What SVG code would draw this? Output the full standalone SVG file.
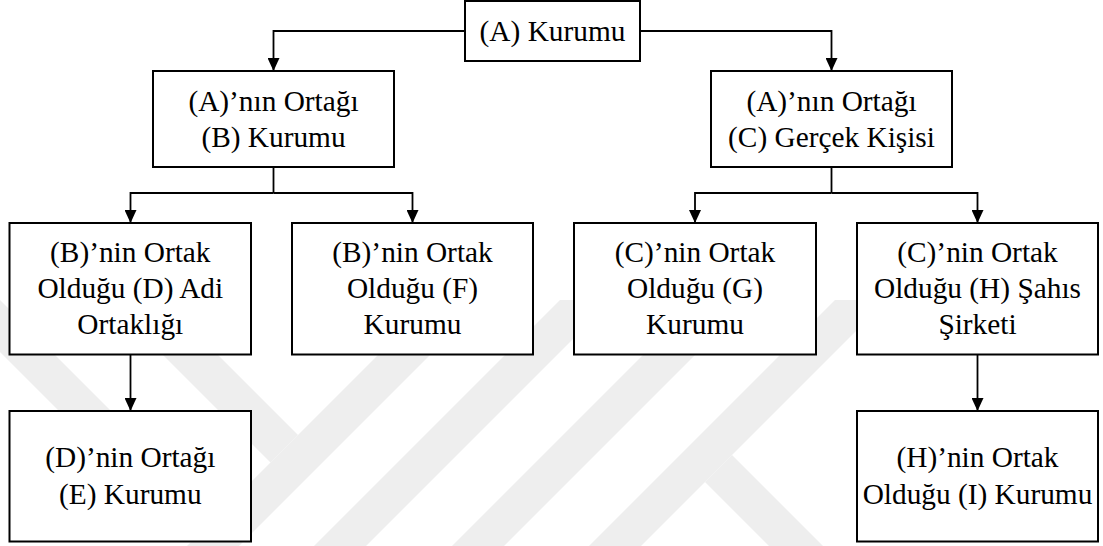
<svg xmlns="http://www.w3.org/2000/svg" width="1103" height="546" viewBox="0 0 1103 546">
  <defs>
    <style>
      .box { fill: #ffffff; stroke: #000000; stroke-width: 2; }
      .lbl { font-family: "Liberation Serif", "Times New Roman", serif; font-size: 29.33px; fill: #000000; text-anchor: middle; }
      .wire { fill: none; stroke: #000000; stroke-width: 1.8; }
      .arrow { fill: none; stroke: #000000; stroke-width: 1.8; marker-end: url(#head); }
      .wm { fill: #eeeeee; }
    </style>
    <marker id="head" markerUnits="userSpaceOnUse" markerWidth="13" markerHeight="12" refX="13" refY="6" orient="auto">
      <path d="M0,0 L13,6 L0,12 z" fill="#000000"/>
    </marker>
    <clipPath id="wmClip">
      <rect x="0" y="300" width="1103" height="246"/>
    </clipPath>
  </defs>

  <rect width="1103" height="546" fill="#ffffff"/>

  <!-- faint background emblem: parallel diagonal bars -->
  <g id="watermark" clip-path="url(#wmClip)">
    <polygon class="wm" points="433,300 485,300 239,546 187,546"/>
    <polygon class="wm" points="560,300 612,300 366,546 314,546"/>
    <polygon class="wm" points="698,300 750,300 504,546 452,546"/>
    <polygon class="wm" points="835,300 887,300 641,546 589,546"/>
    <polygon class="wm" points="732,455 823,546 769,546 705,482"/>
    <polygon class="wm" points="163,300 298,435 270.5,462.5 108,300"/>
    <polygon class="wm" points="0,300 216.5,516.5 190.5,542.5 -52,300"/>
  </g>

  <!-- connectors -->
  <g id="connectors">
    <path class="arrow" d="M465,31 H273.5 V71"/>
    <path class="arrow" d="M640,31 H831.5 V71"/>
    <path class="wire" d="M273.5,167 V193"/>
    <path class="arrow" d="M273.5,193 H130.5 V223"/>
    <path class="arrow" d="M273.5,193 H412.5 V223"/>
    <path class="wire" d="M831.5,167 V193"/>
    <path class="arrow" d="M831.5,193 H695 V223"/>
    <path class="arrow" d="M831.5,193 H977.5 V223"/>
    <path class="arrow" d="M130.5,354.5 V411"/>
    <path class="arrow" d="M977.5,354.5 V411"/>
  </g>

  <g id="node-a">
    <rect class="box" x="465" y="1" width="175" height="60"/>
    <text class="lbl" x="552.5" y="41">(A) Kurumu</text>
  </g>

  <g id="node-b">
    <rect class="box" x="153" y="71" width="241" height="96"/>
    <text class="lbl" x="273.5" y="111">(A)’nın Ortağı</text>
    <text class="lbl" x="273.5" y="147">(B) Kurumu</text>
  </g>

  <g id="node-c">
    <rect class="box" x="711" y="71" width="241" height="96"/>
    <text class="lbl" x="831.5" y="111">(A)’nın Ortağı</text>
    <text class="lbl" x="831.5" y="147">(C) Gerçek Kişisi</text>
  </g>

  <g id="node-d">
    <rect class="box" x="9.5" y="223" width="241.5" height="131.5"/>
    <text class="lbl" x="130.3" y="262">(B)’nin Ortak</text>
    <text class="lbl" x="130.3" y="298.3">Olduğu (D) Adi</text>
    <text class="lbl" x="130.3" y="334.3">Ortaklığı</text>
  </g>

  <g id="node-f">
    <rect class="box" x="292" y="223" width="241" height="131.5"/>
    <text class="lbl" x="412.5" y="262">(B)’nin Ortak</text>
    <text class="lbl" x="412.5" y="298.3">Olduğu (F)</text>
    <text class="lbl" x="412.5" y="334.3">Kurumu</text>
  </g>

  <g id="node-g">
    <rect class="box" x="574" y="223" width="242" height="131.5"/>
    <text class="lbl" x="695" y="262">(C)’nin Ortak</text>
    <text class="lbl" x="695" y="298.3">Olduğu (G)</text>
    <text class="lbl" x="695" y="334.3">Kurumu</text>
  </g>

  <g id="node-h">
    <rect class="box" x="857" y="223" width="241" height="131.5"/>
    <text class="lbl" x="977.5" y="262">(C)’nin Ortak</text>
    <text class="lbl" x="977.5" y="298.3">Olduğu (H) Şahıs</text>
    <text class="lbl" x="977.5" y="334.3">Şirketi</text>
  </g>

  <g id="node-e">
    <rect class="box" x="9.5" y="411" width="241.5" height="130.5"/>
    <text class="lbl" x="130.3" y="467.3">(D)’nin Ortağı</text>
    <text class="lbl" x="130.3" y="504">(E) Kurumu</text>
  </g>

  <g id="node-i">
    <rect class="box" x="857" y="411" width="241" height="130.5"/>
    <text class="lbl" x="977.5" y="467.3">(H)’nin Ortak</text>
    <text class="lbl" x="977.5" y="504">Olduğu (I) Kurumu</text>
  </g>
</svg>
